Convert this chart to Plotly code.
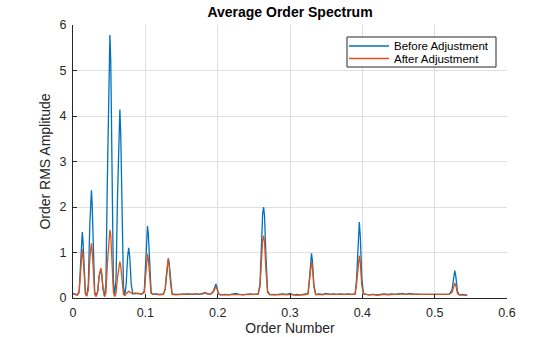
import plotly.graph_objects as go

# Order axis values (non-uniform sampling)
order = [
    0.000, 0.003, 0.006, 0.0085, 0.0105, 0.012, 0.0128, 0.0138, 0.0153, 0.0172,
    0.0190, 0.0212, 0.0232, 0.0246, 0.0255, 0.0265, 0.0282, 0.0300, 0.0320, 0.0342,
    0.0362, 0.0376, 0.0386, 0.0398, 0.0415, 0.0435, 0.0455, 0.0475, 0.0495, 0.0510,
    0.0522, 0.0540, 0.0558, 0.0575, 0.0595, 0.0615, 0.0635, 0.0648, 0.0660, 0.0678,
    0.0698, 0.0715, 0.0735, 0.0755, 0.0770, 0.0785, 0.0805, 0.0825, 0.0850, 0.0900,
    0.0950, 0.0985, 0.1005, 0.1020, 0.1030, 0.1042, 0.1060, 0.1080, 0.1100, 0.1150,
    0.1200, 0.1250, 0.1275, 0.1295, 0.1308, 0.1318, 0.1330, 0.1348, 0.1370, 0.1420,
    0.1500, 0.1550, 0.1600, 0.1650, 0.1700, 0.1750, 0.1800, 0.1830, 0.1850, 0.1900,
    0.1940, 0.1960, 0.1975, 0.1990, 0.2010, 0.2040, 0.2100, 0.2150, 0.2200, 0.2250,
    0.2300, 0.2350, 0.2400, 0.2450, 0.2500, 0.2560, 0.2585, 0.2605, 0.2622, 0.2635,
    0.2648, 0.2668, 0.2690, 0.2720, 0.2780, 0.2840, 0.2900, 0.2950, 0.3000, 0.3050,
    0.3100, 0.3150, 0.3200, 0.3250, 0.3270, 0.3285, 0.3297, 0.3310, 0.3330, 0.3355,
    0.3400, 0.3450, 0.3500, 0.3550, 0.3600, 0.3650, 0.3700, 0.3750, 0.3800, 0.3850,
    0.3900, 0.3920, 0.3940, 0.3958, 0.3972, 0.3992, 0.4015, 0.4050, 0.4100, 0.4150,
    0.4200, 0.4250, 0.4300, 0.4350, 0.4400, 0.4450, 0.4500, 0.4550, 0.4600, 0.4650,
    0.4700, 0.4750, 0.4800, 0.4850, 0.4900, 0.4950, 0.5000, 0.5050, 0.5100, 0.5150,
    0.5200, 0.5240, 0.5260, 0.5278, 0.5292, 0.5315, 0.5340, 0.5380, 0.5420, 0.5450,
]

before_adjustment = [
    0.10, 0.09, 0.07, 0.15, 0.80, 1.30, 1.45, 1.25, 0.60, 0.10,
    0.05, 0.30, 1.60, 2.25, 2.37, 2.05, 0.80, 0.12, 0.05, 0.15,
    0.48, 0.62, 0.63, 0.50, 0.20, 0.05, 0.30, 2.60, 5.00, 5.78,
    5.20, 2.50, 0.40, 0.05, 0.40, 2.20, 3.80, 4.14, 3.60, 1.50,
    0.25, 0.05, 0.30, 0.90, 1.10, 0.90, 0.30, 0.10, 0.09, 0.10,
    0.08, 0.15, 0.90, 1.45, 1.58, 1.40, 0.70, 0.12, 0.08, 0.09,
    0.08, 0.09, 0.20, 0.60, 0.83, 0.87, 0.75, 0.35, 0.09, 0.08,
    0.09, 0.08, 0.09, 0.08, 0.09, 0.08, 0.10, 0.12, 0.09, 0.08,
    0.15, 0.27, 0.31, 0.24, 0.10, 0.07, 0.08, 0.07, 0.08, 0.10,
    0.08, 0.07, 0.08, 0.09, 0.08, 0.09, 0.30, 1.20, 1.85, 2.00,
    1.80, 0.90, 0.15, 0.08, 0.07, 0.08, 0.09, 0.08, 0.10, 0.07,
    0.08, 0.07, 0.08, 0.10, 0.45, 0.85, 0.98, 0.82, 0.30, 0.08,
    0.09, 0.08, 0.10, 0.08, 0.09, 0.08, 0.09, 0.08, 0.09, 0.08,
    0.09, 0.40, 1.30, 1.67, 1.35, 0.45, 0.10, 0.08, 0.07, 0.08,
    0.07, 0.08, 0.09, 0.08, 0.09, 0.08, 0.09, 0.10, 0.08, 0.10,
    0.09, 0.08, 0.08, 0.08, 0.08, 0.07, 0.08, 0.07, 0.08, 0.07,
    0.08, 0.18, 0.48, 0.60, 0.48, 0.15, 0.07, 0.08, 0.07, 0.06,
]

after_adjustment = [
    0.09, 0.08, 0.06, 0.12, 0.60, 0.98, 1.07, 0.95, 0.45, 0.08,
    0.04, 0.18, 0.85, 1.15, 1.20, 1.05, 0.45, 0.08, 0.03, 0.15,
    0.50, 0.64, 0.66, 0.53, 0.21, 0.03, 0.10, 0.75, 1.30, 1.50,
    1.38, 0.70, 0.15, 0.03, 0.10, 0.45, 0.74, 0.80, 0.70, 0.30,
    0.08, 0.06, 0.10, 0.14, 0.15, 0.13, 0.10, 0.09, 0.11, 0.10,
    0.09, 0.12, 0.55, 0.90, 0.97, 0.85, 0.42, 0.10, 0.09, 0.08,
    0.07, 0.08, 0.20, 0.58, 0.82, 0.86, 0.74, 0.33, 0.08, 0.07,
    0.08, 0.08, 0.08, 0.09, 0.08, 0.09, 0.09, 0.11, 0.10, 0.08,
    0.13, 0.22, 0.25, 0.20, 0.09, 0.07, 0.07, 0.08, 0.07, 0.08,
    0.08, 0.07, 0.08, 0.08, 0.07, 0.08, 0.25, 0.85, 1.27, 1.37,
    1.22, 0.60, 0.12, 0.07, 0.08, 0.07, 0.08, 0.07, 0.08, 0.07,
    0.06, 0.07, 0.07, 0.09, 0.38, 0.70, 0.80, 0.66, 0.25, 0.07,
    0.08, 0.07, 0.09, 0.08, 0.08, 0.07, 0.08, 0.08, 0.08, 0.07,
    0.08, 0.30, 0.75, 0.93, 0.78, 0.28, 0.09, 0.08, 0.07, 0.08,
    0.06, 0.07, 0.08, 0.07, 0.08, 0.08, 0.08, 0.09, 0.08, 0.09,
    0.08, 0.08, 0.08, 0.07, 0.08, 0.07, 0.07, 0.07, 0.07, 0.07,
    0.08, 0.12, 0.27, 0.33, 0.27, 0.10, 0.07, 0.07, 0.06, 0.06,
]

series_names = ["Before Adjustment", "After Adjustment"]
series_colors = ["#0072BD", "#D95319"]

x_ticks = [0, 0.1, 0.2, 0.3, 0.4, 0.5, 0.6]
x_tick_labels = ["0", "0.1", "0.2", "0.3", "0.4", "0.5", "0.6"]
y_ticks = [0, 1, 2, 3, 4, 5, 6]
y_tick_labels = ["0", "1", "2", "3", "4", "5", "6"]

FONT = "Liberation Sans, Arial, Helvetica, sans-serif"
AXC = "#262626"

fig = go.Figure()
for yv, nm, col in zip([before_adjustment, after_adjustment], series_names, series_colors):
    fig.add_trace(go.Scatter(x=order, y=yv, mode="lines", name=nm,
                             line=dict(color=col, width=1.3), showlegend=False))

W, H = 560, 337
L, R, T, B = 73, 53, 25, 39
PW, PH = W - L - R, H - T - B

# Compact MATLAB-style legend (box, sample lines, labels)
shapes = [dict(type="rect", xref="paper", yref="paper",
               x0=(347 - L) / PW, x1=(496 - L) / PW,
               y0=(H - B - 67) / PH, y1=(H - B - 37) / PH,
               line=dict(color=AXC, width=1), fillcolor="white", layer="above")]
annotations = []
row_y = [46, 58.5]
for ry, nm, col in zip(row_y, series_names, series_colors):
    yp = (H - B - ry) / PH
    shapes.append(dict(type="line", xref="paper", yref="paper",
                       x0=(349 - L) / PW, x1=(389 - L) / PW,
                       y0=yp, y1=yp, line=dict(color=col, width=1.3), layer="above"))
    annotations.append(dict(text=nm, xref="paper", yref="paper",
                            x=(392 - L) / PW, y=yp, xanchor="left", yanchor="middle",
                            showarrow=False, font=dict(size=11.5, color="black", family=FONT)))

fig.update_layout(
    width=W, height=H,
    margin=dict(l=L, r=R, t=T, b=B, pad=0, autoexpand=False),
    paper_bgcolor="white", plot_bgcolor="white",
    font=dict(family=FONT, color=AXC, size=12),
    title=dict(text="<b>Average Order Spectrum</b>", x=(L + (W - R)) / 2 / W,
               xanchor="center", y=1 - 12.5 / H, yanchor="middle", yref="container",
               font=dict(size=14, color="black", family=FONT)),
    xaxis=dict(range=[0, 0.6], tickvals=x_ticks, ticktext=x_tick_labels,
               showgrid=True, gridcolor="#dfdfdf", gridwidth=1,
               zeroline=False, showline=True, linecolor=AXC, linewidth=1,
               ticks="inside", ticklen=4, tickcolor=AXC, ticklabelstandoff=3,
               tickfont=dict(size=12.5, color=AXC), automargin=False,
               title=dict(text="Order Number", font=dict(size=14, color=AXC), standoff=2),
               mirror=False),
    yaxis=dict(range=[0, 6], tickvals=y_ticks, ticktext=y_tick_labels,
               showgrid=True, gridcolor="#dfdfdf", gridwidth=1,
               zeroline=False, showline=True, linecolor=AXC, linewidth=1,
               ticks="inside", ticklen=4, tickcolor=AXC, ticklabelstandoff=3,
               tickfont=dict(size=12.5, color=AXC), automargin=False,
               title=dict(text="Order RMS Amplitude", font=dict(size=14, color=AXC), standoff=5),
               mirror=False),
    shapes=shapes,
    annotations=annotations,
    showlegend=False,
)

fig.write_html("out.html")
